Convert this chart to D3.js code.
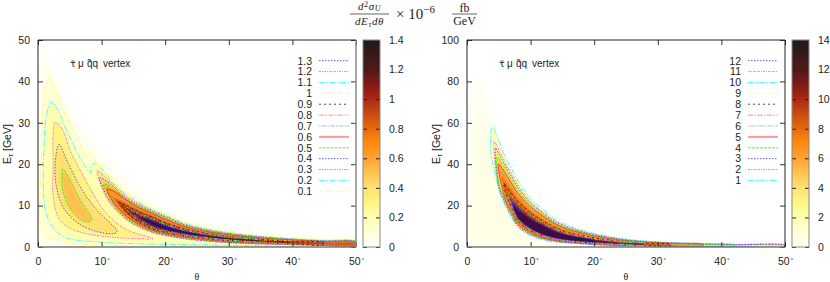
<!DOCTYPE html>
<html>
<head>
<meta charset="utf-8">
<script src="https://cdn.jsdelivr.net/npm/d3@7"></script>
<style>
  body { margin: 0; background: #fff; }
  text { font-family: "Liberation Sans", sans-serif; fill: #222; }
  .math text, text.math { font-family: "Liberation Serif", serif; }
</style>
</head>
<body>
<div id="row"></div>
<script>
// tick labels
var xTicks = [0, 10, 20, 30, 40, 50];
var leftYTicks = [0, 10, 20, 30, 40, 50];
var rightYTicks = [0, 20, 40, 60, 80, 100];
var leftBarTicks = [0, 0.2, 0.4, 0.6, 0.8, 1, 1.2, 1.4];
var rightBarTicks = [0, 2, 4, 6, 8, 10, 12, 14];

// colour bar, value as a share of the full range
var paletteStops = [0, 0.071, 0.143, 0.214, 0.286, 0.357, 0.43, 0.5, 0.607, 0.714, 0.786, 0.857, 1];
var paletteColors = ["#fffff4", "#ffffd8", "#ffffb0", "#fff480", "#ffe070", "#ffc050", "#ffa030", "#ff8a10", "#d85a10", "#a82a14", "#801818", "#501a1a", "#1e1a18"];
var ridgeCore = "#3c0842";

// ---------- left panel, contour levels and [theta, E]
var leftLevels = [0.1, 0.2, 0.3, 0.4, 0.5, 0.6, 0.7, 0.8, 0.9, 1, 1.1, 1.2, 1.3];

var leftGlowOuter = [[0.15,1],[0.15,20],[0.4,40],[1.1,47],[2.5,42],[4.5,35],[7,27],[9,24],[11,20],[14,15],[18,11],[23,7.2],[30,4.4],[40,2.5],[50,1.7],[50,0],[20,0],[3,0],[0.3,0]];
var leftContour01 = [[0.5,4.2],[0.5,20],[0.8,34],[1.7,40.7],[2.9,37],[4.5,31.5],[6.6,25],[7.5,21.5],[8.1,22.9],[9.2,20.3],[10,19.3],[11,17.7],[12,16],[14,13],[16,11],[18,9.3],[20,8],[23,6],[26,4.7],[30,3.6],[35,2.7],[40,2.1],[45,1.7],[50,1.45],[50,0.1],[30,0.15],[15,0.25],[9.7,0.5],[5,1],[2.9,1.9],[1.2,2.8]];
var leftContour02 = [[0.9,12.2],[0.95,24.3],[1.3,31.5],[2.1,35.1],[3.1,33.1],[4.7,27.5],[6.8,21],[8.3,17.8],[8.3,19.2],[8.9,20.3],[10,18.8],[11,17],[12,15.3],[14,12.5],[16,10.6],[18,9],[20,7.7],[23,5.75],[26,4.5],[30,3.45],[35,2.6],[40,2],[45,1.6],[50,1.35],[50,0.2],[35,0.35],[27,0.5],[15,0.8],[9.7,1.2],[4.5,2.2],[2.6,4.2],[1.3,8]];
var leftLobe03 = [[2.7,30.1],[3.7,28.7],[5.2,22.7],[6.6,18.6],[8.6,13],[10.7,8.2],[13.9,4.2],[18.1,2],[16,2],[9.7,2.7],[5.5,4.2],[3.4,6.6],[2.4,12.2],[2.4,20],[2.4,27.5]];
var leftLobe04 = [[3.3,24.8],[4.5,21],[6.6,14.6],[9.2,9],[12.3,4.2],[12.4,3.6],[11.3,3.2],[7.1,5],[4.2,9],[2.9,14.6],[2.7,20]];
var leftLobe05 = [[3.9,18.8],[5,16.2],[6.6,11.4],[8.4,7],[8.4,6.3],[7.3,6.2],[5.2,9],[3.9,13.8],[3.8,17]];

// ridge of the left panel: levels 0.3 to 1.3, tip then upper and lower edge on the theta grid
var leftRidgeTheta = [10, 11, 12, 14, 16, 18, 20, 23, 26, 30, 35, 40, 45, 50];
var leftRidgeTips = [[9.3,18.5],[9.7,16.7],[10.3,15.2],[10.85,14],[11.5,12.5],[12.1,11.6],[12.8,10.8],[13.6,9.9],[14.5,8.8],[15.5,7.9],[16.5,7]];
var leftRidgeUpper = [
  [17.8,16.4,14.9,12.1,10.3,8.8,7.5,5.55,4.35,3.3,2.5,1.9,1.5,1.25],
  [null,15.7,14.4,11.7,10,8.55,7.25,5.35,4.2,3.15,2.35,1.8,1.42,1.2],
  [null,15,13.9,11.4,9.7,8.3,7,5.15,4.05,3.05,2.25,1.72,1.35,1.12],
  [null,null,13.4,11.2,9.4,8.1,6.7,4.95,3.85,2.95,2.15,1.65,1.28,1.05],
  [null,null,12,10.6,9,7.8,6.35,4.75,3.7,2.8,2.05,1.55,1.2,0.98],
  [null,null,null,10.2,8.7,7.5,6.1,4.55,3.55,2.65,1.95,1.45,1.12,0.9],
  [null,null,null,9.9,8.4,7.2,5.85,4.35,3.4,2.5,1.85,1.35,1.05,null],
  [null,null,null,9.6,8.1,6.95,5.6,4.2,3.25,2.4,1.72,1.25,null,null],
  [null,null,null,null,7.8,6.7,5.4,4.05,3.15,2.3,1.65,null,null,null],
  [null,null,null,null,7.5,6.4,5.2,3.9,3,2.2,null,null,null,null],
  [null,null,null,null,null,6.2,5,3.75,2.85,null,null,null,null,null]
];
var leftRidgeLower = [
  [14.5,11.2,9.2,6.4,4.65,3.45,2.7,1.95,1.45,1,0.72,0.52,0.36,0.25],
  [null,11.8,9.7,6.7,4.9,3.65,2.9,2.1,1.6,1.1,0.8,0.58,0.42,0.3],
  [null,12.8,10.1,7,5.15,3.85,3.05,2.25,1.75,1.2,0.88,0.65,0.48,0.34],
  [null,null,10.5,7.3,5.4,4,3.2,2.4,1.85,1.3,0.95,0.7,0.52,0.38],
  [null,null,11.2,7.6,5.6,4.15,3.3,2.5,1.95,1.4,1,0.75,0.56,0.42],
  [null,null,null,7.9,5.75,4.25,3.4,2.6,2,1.45,1.05,0.78,0.58,0.45],
  [null,null,null,8.2,5.9,4.35,3.55,2.7,2.1,1.55,1.1,0.8,0.6,null],
  [null,null,null,8.9,6.2,4.6,3.7,2.85,2.25,1.65,1.2,0.9,null,null],
  [null,null,null,null,6.6,4.85,3.9,3,2.35,1.75,1.3,null,null,null],
  [null,null,null,null,7,5.1,4.1,3.15,2.5,1.85,null,null,null,null],
  [null,null,null,null,null,5.4,4.4,3.35,2.65,null,null,null,null,null]
];

// ---------- right panel
var rightLevels = [1, 2, 3, 4, 5, 6, 7, 8, 9, 10, 11, 12];

var rightGlowOuter = [[0.3,0],[0.3,30],[0.6,65],[1.5,83],[3,72],[4,60],[5,51],[7,37],[10,23],[14,13],[18,8],[24,4],[30,2],[30,0],[10,0]];
var rightGlowInner = [[1.2,2],[1.2,30],[1.8,55],[3,62],[3.95,58],[3.7,50],[4.1,40],[4.6,32],[6,20],[8,9.6],[10,5],[13,2.6],[16,1.2],[10,1],[4,1]];
var rightContour01Head = [[3.95,58.3],[3.7,50],[3.8,44],[4.1,40],[4.5,34]];

var rightRidgeTheta = [5, 6, 7, 8, 10, 12, 14, 16, 18, 20, 24, 28, 32, 37, 42, 50];
var rightRidgeTips = [[3.95,58.3],[4.3,51],[4.5,47.8],[4.7,43.5],[4.95,40.1],[5.3,36.8],[5.5,33.8],[5.8,31],[6.2,27],[6.5,25.3],[6.7,23],[6.95,21.3]];
var rightRidgeUpper = [
  [51.5,43.5,38,32,23.5,18,13.2,10.2,8.2,6.6,4.2,2.9,2.2,1.7,1.3,0.9],
  [47,41,35.5,30,22,16.8,12.4,9.6,7.7,6.2,3.95,2.7,2.05,1.55,1.2,0.8],
  [45,39.5,34,28.8,21.2,16.2,11.9,9.2,7.4,5.9,3.75,2.55,1.95,1.45,1.1,0.72],
  [42.5,38,32.5,27.6,20.3,15.5,11.4,8.8,7.1,5.6,3.55,2.4,1.82,1.35,1,null],
  [null,35.8,30.6,26,19.3,14.8,10.9,8.3,6.8,5.3,3.35,2.25,1.7,1.25,null,null],
  [null,33.8,29,24.7,18.3,14,10.3,7.9,6.4,5,3.15,2.1,1.58,1.15,null,null],
  [null,31.8,27.5,23.4,17.4,13.2,9.7,7.4,6,4.7,2.95,1.95,1.45,null,null,null],
  [null,30,26,22.2,16.5,12.5,9.2,7,5.6,4.4,2.75,1.8,1.3,null,null,null],
  [null,null,24.5,21,15.6,11.8,8.7,6.6,5.3,4.1,2.55,1.68,null,null,null,null],
  [null,null,23.2,19.9,14.8,11.2,8.2,6.2,5,3.85,2.4,1.55,null,null,null,null],
  [null,null,21.8,18.8,14,10.6,7.7,5.8,4.7,3.6,2.2,null,null,null,null,null],
  [null,null,null,17.8,13.2,10,7.2,5.4,4.4,3.3,null,null,null,null,null,null]
];
var rightRidgeLower = [
  [27.5,20,14,9.6,5.4,3.4,2.4,1.9,1.5,1.1,0.6,0.38,0.24,0.16,0.12,0.06],
  [28.5,20.8,14.7,10,5.8,3.7,2.6,2,1.6,1.2,0.68,0.44,0.28,0.19,0.14,0.08],
  [29.5,21.5,15.4,10.4,6.2,4,2.8,2.15,1.72,1.3,0.76,0.5,0.33,0.23,0.17,0.1],
  [30.5,22.2,16,10.8,6.5,4.2,3,2.3,1.85,1.4,0.85,0.56,0.38,0.26,0.2,null],
  [null,23,16.8,11.2,6.8,4.4,3.2,2.45,1.95,1.5,0.93,0.62,0.42,0.3,null,null],
  [null,24,17.5,11.6,7.1,4.6,3.35,2.55,2.05,1.6,1,0.68,0.46,0.33,null,null],
  [null,25.5,18.3,12.1,7.4,4.85,3.5,2.65,2.15,1.68,1.08,0.74,0.5,null,null,null],
  [null,27,19,12.6,7.8,5.1,3.65,2.8,2.25,1.76,1.15,0.8,0.55,null,null,null],
  [null,null,20,13,8.1,5.3,3.8,2.9,2.35,1.85,1.22,0.86,null,null,null,null],
  [null,null,20.8,13.4,8.4,5.55,3.95,3,2.45,1.95,1.3,0.92,null,null,null,null],
  [null,null,21.3,13.8,8.8,5.8,4.1,3.15,2.55,2.05,1.4,null,null,null,null,null],
  [null,null,null,14.4,9.2,6.1,4.3,3.3,2.7,2.2,null,null,null,null,null,null]
];

// gnuplot line types, the cycle starts at 0.1 on the left and 1 on the right
var lineStyles = [
  {color: "#ffff00", dash: "3,1.5,1,1.5,1,1.5"},
  {color: "#00ffff", dash: "6,1.5,1.5,1.5"},
  {color: "#ff30ff", dash: "2,1,1,1"},
  {color: "#1818ff", dash: "1.5,1.5"},
  {color: "#00ff00", dash: "3,1"},
  {color: "#ff0000", dash: null},
  {color: "#a0a0a0", dash: "1.5,1,5,1"},
  {color: "#ff6a30", dash: "5,1.5,1.5,1.5"},
  {color: "#000000", dash: "2,3"}
];
var leftStyleStart = 0;
var rightStyleStart = 1;

var width = 830, height = 282;
var svg = d3.select("#row").append("svg")
  .attr("width", width).attr("height", height)
  .style("display", "block");

var color = d3.scaleLinear().domain(paletteStops).range(paletteColors);

var defs = svg.append("defs");
function addBlur(id, amount) {
  defs.append("filter").attr("id", id)
    .attr("x", "-20%").attr("y", "-20%").attr("width", "140%").attr("height", "140%")
    .append("feGaussianBlur").attr("stdDeviation", amount);
}
addBlur("haze", 3.5);
addBlur("soft", 1.6);
addBlur("sharp", 0.3);

function ridgeLoop(grid, tip, upper, lower) {
  var pts = [tip];
  grid.forEach(function(t, i) { if (upper[i] !== null) pts.push([t, upper[i]]); });
  for (var i = grid.length - 1; i >= 0; i--) {
    if (lower[i] !== null) pts.push([grid[i], lower[i]]);
  }
  return pts;
}

function drawPanel(p) {
  var x = d3.scaleLinear().domain([0, 50]).range([p.left, p.left + 318]);
  var y = d3.scaleLinear().domain([0, p.yMax]).range([247, 40]);
  var barY = d3.scaleLinear().domain([0, p.barMax]).range([247, 40]);

  defs.append("clipPath").attr("id", p.id + "-clip").append("rect")
    .attr("x", p.left).attr("y", 40).attr("width", 318).attr("height", 207);

  var path = d3.line().x(function(d) { return x(d[0]); }).y(function(d) { return y(d[1]); })
    .curve(d3.curveCatmullRomClosed.alpha(0.5));

  var plot = svg.append("g").attr("clip-path", "url(#" + p.id + "-clip)");
  var haze = plot.append("g").attr("filter", "url(#haze)");
  var broad = plot.append("g").attr("filter", "url(#soft)");
  var fine = plot.append("g").attr("filter", "url(#sharp)");

  p.glow.forEach(function(g) {
    haze.append("path").attr("d", path(g.points)).attr("fill", color(g.value / p.barMax));
  });
  p.loops.forEach(function(l) {
    var top = l.level === p.levels[p.levels.length - 1];
    var value = l.broad ? l.level : l.level + p.step / 2;
    (l.broad ? broad : fine).append("path").attr("d", path(l.points))
      .attr("fill", top ? ridgeCore : color(value / p.barMax));
  });
  p.loops.forEach(function(l) {
    var s = lineStyles[(p.levels.indexOf(l.level) + p.styleStart) % lineStyles.length];
    plot.append("path").attr("d", path(l.points))
      .attr("fill", "none")
      .attr("stroke", s.color)
      .attr("stroke-width", 0.8)
      .attr("stroke-opacity", 0.85)
      .attr("stroke-dasharray", s.dash);
  });

  // axes, ticks point inwards and are mirrored on top and right
  var xAxis = svg.append("g").attr("transform", "translate(0,247)")
    .call(d3.axisBottom(x).tickValues(xTicks).tickSize(-5).tickPadding(11)
      .tickFormat(function(d) { return d; }));
  var yAxis = svg.append("g").attr("transform", "translate(" + p.left + ",0)")
    .call(d3.axisLeft(y).tickValues(p.yTicks).tickSize(-5).tickPadding(8));
  var topAxis = svg.append("g").attr("transform", "translate(0,40)")
    .call(d3.axisTop(x).tickValues(xTicks).tickSize(-5).tickFormat(""));
  var rightAxis = svg.append("g").attr("transform", "translate(" + (p.left + 318) + ",0)")
    .call(d3.axisRight(y).tickValues(p.yTicks).tickSize(-5).tickFormat(""));

  [xAxis, yAxis, topAxis, rightAxis].forEach(function(a) {
    a.select(".domain").remove();
    a.selectAll(".tick line").attr("stroke", "#333").attr("stroke-width", 1);
    a.selectAll("text").style("font-family", "\"Liberation Sans\", sans-serif")
      .style("font-size", "10.5px").style("fill", "#222");
  });
  // degree marks on the theta labels
  xAxis.selectAll(".tick text").filter(function(d) { return d > 0; })
    .append("tspan").attr("dy", "-0.5em").attr("dx", 1).style("font-size", "6px").text("°");

  // frame
  svg.append("line").attr("x1", p.left).attr("x2", p.left).attr("y1", 40).attr("y2", 247).attr("stroke", "#222");
  svg.append("line").attr("x1", p.left).attr("x2", p.left + 318).attr("y1", 40).attr("y2", 40).attr("stroke", "#222");
  svg.append("line").attr("x1", p.left).attr("x2", p.left + 318).attr("y1", 247).attr("y2", 247).attr("stroke", "#777").attr("stroke-width", 1.5);
  svg.append("line").attr("x1", p.left + 318).attr("x2", p.left + 318).attr("y1", 40).attr("y2", 247)
    .attr("stroke", p.rightFrame).attr("stroke-width", p.rightFrame === "#222" ? 1 : 1.5);

  // labels
  svg.append("text").attr("x", p.left + 159).attr("y", 280).attr("text-anchor", "middle")
    .attr("font-size", 10).attr("class", "math").text("θ");
  var yl = svg.append("text")
    .attr("transform", "translate(" + (p.left - 27) + ",144) rotate(-90)")
    .attr("text-anchor", "middle").attr("font-size", 10.5);
  yl.append("tspan").text("E");
  yl.append("tspan").attr("dy", 2).attr("font-size", 7.5).text("τ");
  yl.append("tspan").attr("dy", -2).text(" [GeV]");

  var note = svg.append("text").attr("y", 67).attr("font-size", 10);
  note.append("tspan").attr("x", p.left + 32).style("font-family", "\"DejaVu Sans\"").attr("font-size", 9.5).text("τ̃");
  note.append("tspan").attr("x", p.left + 40).text("μ");
  note.append("tspan").attr("x", p.left + 49).text("q̃q");
  note.append("tspan").attr("x", p.left + 65).text("vertex");

  // legend, top row is the highest level
  var rows = p.levels.slice().reverse();
  var rowY = d3.scalePoint().domain(d3.range(13)).range([60.7, 191.3]);
  rows.forEach(function(level, i) {
    var s = lineStyles[(p.levels.indexOf(level) + p.styleStart) % lineStyles.length];
    svg.append("text").attr("x", p.legendX).attr("y", rowY(i) + 3.8)
      .attr("text-anchor", "end").attr("font-size", 10.5).text(level);
    svg.append("line").attr("x1", p.legendX + 7).attr("x2", p.legendX + 37)
      .attr("y1", rowY(i)).attr("y2", rowY(i))
      .attr("stroke", s.color).attr("stroke-opacity", s.dash ? 0.7 : 0.4)
      .attr("stroke-width", s.dash ? 1 : 2)
      .attr("stroke-dasharray", s.dash);
  });

  // colour bar
  var barX = p.left + 325;
  var barSteps = d3.range(0, 1, 1 / 104);
  svg.append("g").selectAll("rect").data(barSteps).join("rect")
    .attr("x", barX).attr("width", 17)
    .attr("y", function(d) { return barY((d + 1 / 104) * p.barMax); })
    .attr("height", 207 / 104 + 0.5)
    .attr("fill", function(d) { return color(d); });
  var barRight = svg.append("g").attr("transform", "translate(" + (barX + 17) + ",0)")
    .call(d3.axisRight(barY).tickValues(p.barTicks).tickSize(-4).tickPadding(9)
      .tickFormat(function(d) { return d; }));
  var barLeft = svg.append("g").attr("transform", "translate(" + barX + ",0)")
    .call(d3.axisLeft(barY).tickValues(p.barTicks).tickSize(-4).tickFormat(""));
  [barRight, barLeft].forEach(function(a) {
    a.select(".domain").remove();
    a.selectAll(".tick line").attr("stroke", "#222");
    a.selectAll("text").style("font-family", "\"Liberation Sans\", sans-serif")
      .style("font-size", "10.5px").style("fill", "#222");
  });
  svg.append("rect").attr("x", barX).attr("y", 40).attr("width", 17).attr("height", 207)
    .attr("fill", "none").attr("stroke", "#888").attr("stroke-width", 1);
}

var leftLoops = [
  {level: 0.1, points: leftContour01, broad: true},
  {level: 0.2, points: leftContour02, broad: true},
  {level: 0.3, points: leftLobe03, broad: true},
  {level: 0.4, points: leftLobe04, broad: true},
  {level: 0.5, points: leftLobe05, broad: true}
];
leftRidgeTips.forEach(function(tip, i) {
  leftLoops.push({level: leftLevels[i + 2],
    points: ridgeLoop(leftRidgeTheta, tip, leftRidgeUpper[i], leftRidgeLower[i])});
});

var rightLoops = rightRidgeTips.map(function(tip, i) {
  var pts = ridgeLoop(rightRidgeTheta, tip, rightRidgeUpper[i], rightRidgeLower[i]);
  // the outer contour has a bent left flank above the first grid column
  if (i === 0) pts = pts.concat(rightContour01Head.slice(1).reverse());
  return {level: rightLevels[i], points: pts};
});

drawPanel({
  id: "left", left: 38, yMax: 50, barMax: 1.4, step: 0.1,
  yTicks: leftYTicks, barTicks: leftBarTicks, levels: leftLevels,
  loops: leftLoops, glow: [{value: 0.04, points: leftGlowOuter}],
  styleStart: leftStyleStart, legendX: 312, rightFrame: "#888"
});
drawPanel({
  id: "right", left: 467, yMax: 100, barMax: 14, step: 1,
  yTicks: rightYTicks, barTicks: rightBarTicks, levels: rightLevels,
  loops: rightLoops, glow: [{value: 0.2, points: rightGlowOuter}, {value: 0.5, points: rightGlowInner}],
  styleStart: rightStyleStart, legendX: 741, rightFrame: "#222"
});

// title
var title = svg.append("g").attr("class", "math");
var num = title.append("text").attr("x", 369.5).attr("y", 10).attr("text-anchor", "middle")
  .attr("font-size", 11).attr("font-style", "italic").attr("letter-spacing", 0.6);
num.append("tspan").text("d");
num.append("tspan").attr("dy", -3).attr("font-size", 8).attr("font-style", "normal").text("2");
num.append("tspan").attr("dy", 3).text("σ");
num.append("tspan").attr("dy", 1).attr("font-size", 8).text("U");
title.append("line").attr("x1", 350).attr("x2", 389).attr("y1", 14).attr("y2", 14).attr("stroke", "#222").attr("stroke-width", 0.7);
var den = title.append("text").attr("x", 369.5).attr("y", 25).attr("text-anchor", "middle")
  .attr("font-size", 11).attr("font-style", "italic").attr("letter-spacing", 0.6);
den.append("tspan").text("dE");
den.append("tspan").attr("dy", 2).attr("font-size", 8).text("τ");
den.append("tspan").attr("dy", -2).text("dθ");
var factor = title.append("text").attr("x", 396).attr("y", 18.5).attr("font-size", 15);
factor.append("tspan").text("× 10");
factor.append("tspan").attr("dy", -6).attr("font-size", 11).text("−6");
title.append("text").attr("x", 464.5).attr("y", 11.5).attr("text-anchor", "middle").attr("font-size", 12).text("fb");
title.append("line").attr("x1", 452).attr("x2", 477).attr("y1", 14).attr("y2", 14).attr("stroke", "#222").attr("stroke-width", 0.7);
title.append("text").attr("x", 464.5).attr("y", 25).attr("text-anchor", "middle").attr("font-size", 12).text("GeV");
</script>
</body>
</html>
